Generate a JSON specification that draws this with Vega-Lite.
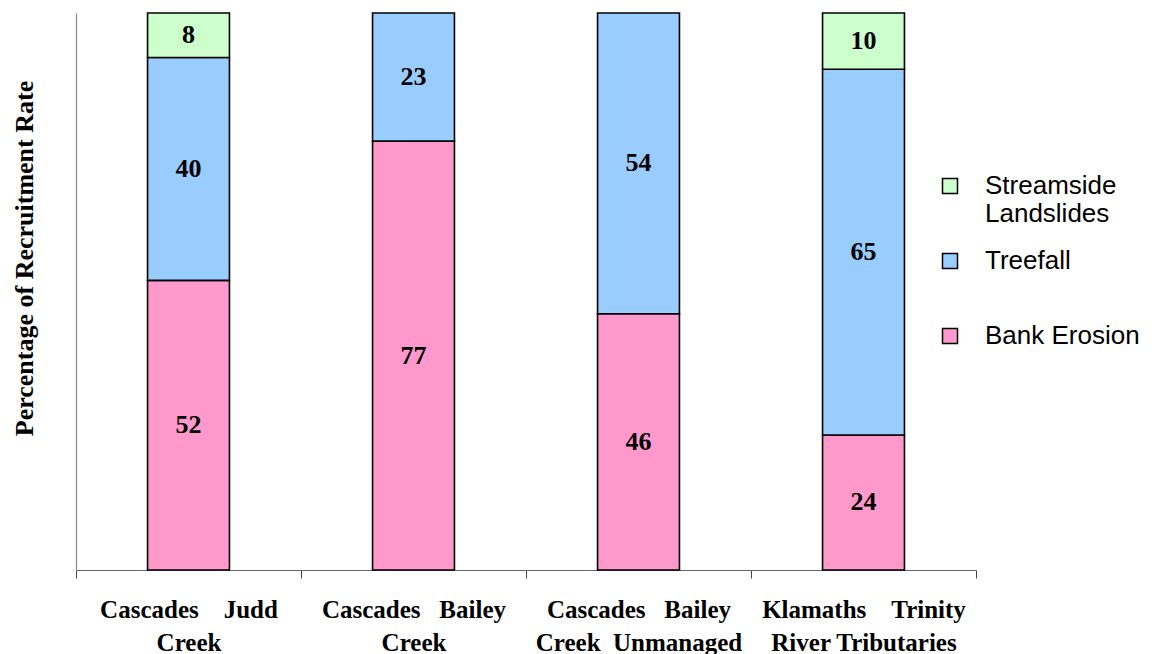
{
  "$schema": "https://vega.github.io/schema/vega-lite/v6.json",
  "width": 900,
  "height": 557,
  "autosize": "none",
  "padding": {"left": 76, "top": 13, "right": 179, "bottom": 84},
  "background": "white",
  "config": {"view": {"stroke": null}},
  "data": {"values": [
    {"site": "Cascades Judd Creek", "source": "Bank Erosion", "pct": 52},
    {"site": "Cascades Judd Creek", "source": "Treefall", "pct": 40},
    {"site": "Cascades Judd Creek", "source": "Streamside Landslides", "pct": 8},
    {"site": "Cascades Bailey Creek", "source": "Bank Erosion", "pct": 77},
    {"site": "Cascades Bailey Creek", "source": "Treefall", "pct": 23},
    {"site": "Cascades Bailey Creek Unmanaged", "source": "Bank Erosion", "pct": 46},
    {"site": "Cascades Bailey Creek Unmanaged", "source": "Treefall", "pct": 54},
    {"site": "Klamaths Trinity River Tributaries", "source": "Bank Erosion", "pct": 24},
    {"site": "Klamaths Trinity River Tributaries", "source": "Treefall", "pct": 65},
    {"site": "Klamaths Trinity River Tributaries", "source": "Streamside Landslides", "pct": 10}
  ]},
  "transform": [
    {"calculate": "indexof(['Bank Erosion','Treefall','Streamside Landslides'], datum.source)", "as": "k"},
    {"stack": "pct", "groupby": ["site"], "sort": [{"field": "k"}], "offset": "normalize", "as": ["y0", "y1"]},
    {"calculate": "(datum.y0 + datum.y1) / 2", "as": "ymid"}
  ],
  "encoding": {
    "x": {
      "field": "site", "type": "nominal",
      "sort": ["Cascades Judd Creek", "Cascades Bailey Creek", "Cascades Bailey Creek Unmanaged", "Klamaths Trinity River Tributaries"],
      "scale": {"paddingInner": 0, "paddingOuter": 0},
      "axis": {
        "title": null,
        "labelAngle": 0,
        "labelExpr": "datum.label == 'Cascades Judd Creek' ? ['\u00a0\u00a0\u00a0\u00a0\u00a0Cascades\u00a0\u00a0\u00a0\u00a0Judd', 'Creek'] : datum.label == 'Cascades Bailey Creek' ? ['Cascades\u00a0\u00a0\u00a0Bailey', 'Creek'] : datum.label == 'Cascades Bailey Creek Unmanaged' ? ['Cascades\u00a0\u00a0\u00a0Bailey', 'Creek\u00a0\u00a0Unmanaged'] : datum.label == 'Klamaths Trinity River Tributaries' ? ['Klamaths\u00a0\u00a0\u00a0\u00a0Trinity', 'River Tributaries'] : ''",
        "labelFont": "Liberation Serif",
        "labelFontWeight": "bold",
        "labelFontSize": 25,
        "labelColor": "black",
        "labelLineHeight": 33,
        "labelBaseline": "top",
        "labelPadding": 19,
        "labelLimit": 300,
        "tickBand": "extent",
        "tickSize": 8,
        "tickColor": "#444",
        "domainColor": "#666",
        "domainWidth": 1
      }
    }
  },
  "layer": [
    {
      "mark": {"type": "bar", "stroke": "black", "strokeWidth": 1.6, "width": {"band": 0.364}},
      "encoding": {
        "y": {
          "field": "y1", "type": "quantitative",
          "scale": {"domain": [0, 1], "nice": false},
          "axis": {
            "title": "Percentage of Recruitment Rate",
            "titleFont": "Liberation Serif",
            "titleFontWeight": "bold",
            "titleFontSize": 26,
            "titleColor": "black",
            "titleAngle": 270,
            "titleAlign": "center",
            "titleBaseline": "middle",
            "titleX": -52,
            "titleY": 245,
            "labels": false,
            "ticks": false,
            "grid": false,
            "domainColor": "#888",
            "domainWidth": 1.2
          }
        },
        "y2": {"field": "y0"},
        "fill": {
          "field": "source", "type": "nominal",
          "scale": {
            "domain": ["Streamside Landslides", "Treefall", "Bank Erosion"],
            "range": ["#CCFFCC", "#99CCFF", "#FF99CC"]
          },
          "legend": {
            "title": null,
            "orient": "none",
            "legendX": 861,
            "legendY": 160,
            "symbolType": "square",
            "symbolSize": 225,
            "symbolStrokeColor": "black",
            "symbolStrokeWidth": 1.5,
            "labelFont": "Liberation Sans",
            "labelFontSize": 26,
            "labelColor": "black",
            "labelOffset": 22,
            "labelLimit": 300,
            "labelLineHeight": 30,
            "gridAlign": "all",
            "rowPadding": 21,
            "labelExpr": "datum.label == 'Streamside Landslides' ? ['Streamside', 'Landslides'] : datum.label"
          }
        }
      }
    },
    {
      "mark": {"type": "text", "font": "Liberation Serif", "fontWeight": "bold", "fontSize": 26, "color": "black", "baseline": "middle"},
      "encoding": {
        "y": {"field": "ymid", "type": "quantitative"},
        "text": {"field": "pct", "type": "quantitative"}
      }
    }
  ]
}
